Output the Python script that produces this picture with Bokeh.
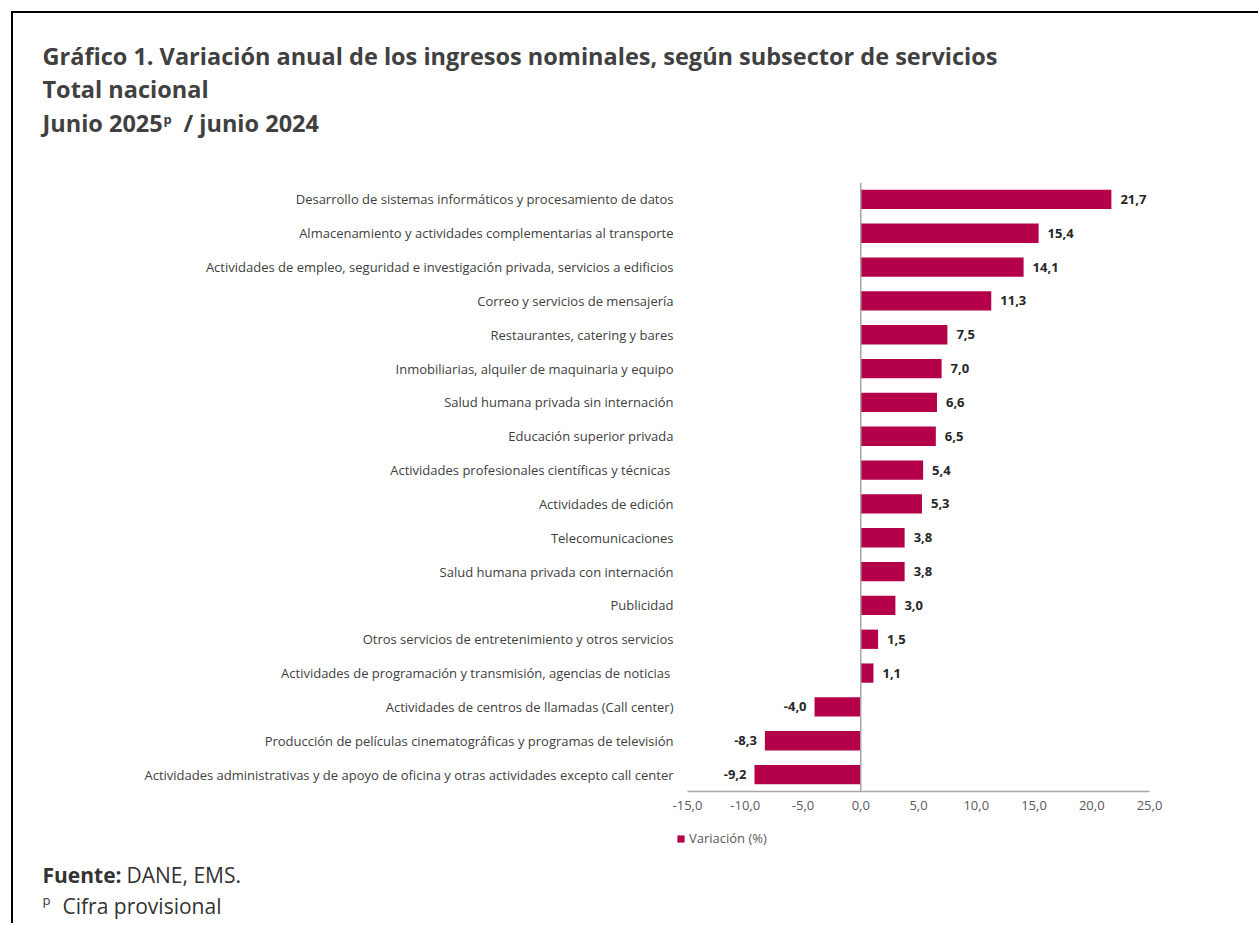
from bokeh.plotting import figure
from bokeh.layouts import column
from bokeh.models import (FactorRange, Span, Label, FixedTicker, CustomJSTickFormatter,
                          ColumnDataSource, Legend, LegendItem)
from bokeh.core.properties import value
from bokeh.embed import file_html
from bokeh.resources import INLINE

categories = [
    "Desarrollo de sistemas informáticos y procesamiento de datos",
    "Almacenamiento y actividades complementarias al transporte",
    "Actividades de empleo, seguridad e investigación privada, servicios a edificios",
    "Correo y servicios de mensajería",
    "Restaurantes, catering y bares",
    "Inmobiliarias, alquiler de maquinaria y equipo",
    "Salud humana privada sin internación",
    "Educación superior privada",
    "Actividades profesionales científicas y técnicas ",
    "Actividades de edición",
    "Telecomunicaciones",
    "Salud humana privada con internación",
    "Publicidad",
    "Otros servicios de entretenimiento y otros servicios",
    "Actividades de programación y transmisión,  agencias de noticias",
    "Actividades de centros de llamadas (Call center)",
    "Producción de películas cinematográficas y programas de televisión",
    "Actividades administrativas y de apoyo de oficina y otras actividades excepto call center",
]
values = [21.7, 15.4, 14.1, 11.3, 7.5, 7.0, 6.6, 6.5, 5.4, 5.3, 3.8, 3.8, 3.0, 1.5, 1.1, -4.0, -8.3, -9.2]
x_ticks = [-15, -10, -5, 0, 5, 10, 15, 20, 25]
series_name = "Variación (%)"

FONT = "Open Sans"
BAR = "#B5004A"
TXT = "#404040"
W = 1247

labels = [f"{v:.1f}".replace(".", ",") for v in values]
src = ColumnDataSource(dict(cat=categories, val=values, lab=labels))
pos = ColumnDataSource(dict(cat=[c for c, v in zip(categories, values) if v >= 0],
                            val=[v for v in values if v >= 0],
                            lab=[l for l, v in zip(labels, values) if v >= 0]))
neg = ColumnDataSource(dict(cat=[c for c, v in zip(categories, values) if v < 0],
                            val=[v for v in values if v < 0],
                            lab=[l for l, v in zip(labels, values) if v < 0]))


def blank(height, border_top=False):
    f = figure(width=W, height=height, output_backend="svg", toolbar_location=None,
               x_range=(0, 1), y_range=(0, 1), x_axis_type=None, y_axis_type=None,
               min_border=0, min_border_left=0, min_border_right=0,
               min_border_top=0, min_border_bottom=0, frame_align=False)
    f.outline_line_color = None
    f.xgrid.grid_line_color = None
    f.ygrid.grid_line_color = None
    st = {"border-left": "2px solid #000"}
    if border_top:
        st["border-top"] = "2px solid #000"
    f.styles = st
    return f


def lab(f, x, y, text, size, bold=False, color=TXT):
    f.add_layout(Label(x=x, y=y, x_units="screen", y_units="screen", text=text,
                       text_font=FONT, text_font_size=size,
                       text_font_style="bold" if bold else "normal",
                       text_color=color, text_baseline="middle", text_align="left"))


# ---- header
header = blank(160, border_top=True)
lab(header, 29, 118, "Gráfico 1. Variación anual de los ingresos nominales, según subsector de servicios", "23.5px", True)
lab(header, 29, 85, "Total nacional", "23.5px", True)
lab(header, 29, 51, "Junio 2025", "23.5px", True)
lab(header, 150, 55, "p", "13px", True)
lab(header, 170, 51, "/ junio 2024", "23.5px", True)

# ---- main chart
p = figure(width=W, height=654, output_backend="svg", toolbar_location=None,
           y_range=FactorRange(factors=list(reversed(categories))),
           x_range=(-15, 25), frame_align=False,
           min_border_left=674, min_border_right=W - 1136, min_border_top=11, min_border_bottom=34)
p.styles = {"border-left": "2px solid #000"}
p.outline_line_color = None
p.xgrid.grid_line_color = None
p.ygrid.grid_line_color = None

r = p.hbar(y="cat", right="val", left=0, height=0.57, source=src, fill_color=BAR, line_color=None)

p.text(x="val", y="cat", text="lab", source=pos, x_offset=9, text_align="left",
       text_baseline="middle", text_font=value(FONT), text_font_size="13px",
       text_font_style="bold", text_color="#262626")
p.text(x="val", y="cat", text="lab", source=neg, x_offset=-8, text_align="right",
       text_baseline="middle", text_font=value(FONT), text_font_size="13px",
       text_font_style="bold", text_color="#262626")

p.add_layout(Span(location=0, dimension="height", line_color="#a6a6a6", line_width=1.5))

p.yaxis.axis_line_color = None
p.yaxis.major_tick_line_color = None
p.yaxis.minor_tick_line_color = None
p.yaxis.major_tick_out = 0
p.yaxis.major_label_standoff = 14
p.yaxis.major_label_text_font = FONT
p.yaxis.major_label_text_font_size = "13px"
p.yaxis.major_label_text_color = TXT

p.xaxis.ticker = FixedTicker(ticks=x_ticks)
p.xaxis.formatter = CustomJSTickFormatter(code="return tick.toFixed(1).replace('.', ',');")
p.xaxis.axis_line_color = "#a6a6a6"
p.xaxis.axis_line_width = 1.5
p.xaxis.major_tick_line_color = None
p.xaxis.minor_tick_line_color = None
p.xaxis.major_tick_out = 0
p.xaxis.major_label_standoff = 9
p.xaxis.major_label_text_font = FONT
p.xaxis.major_label_text_font_size = "13px"
p.xaxis.major_label_text_color = "#595959"

# ---- footer (legend + source notes)
footer = blank(98)
# hidden copy of the series, only used to draw the legend key
key = footer.hbar(y="val", right="val", height=0.57, source=src,
                  fill_color=BAR, line_color=None, visible=False)
legend = Legend(items=[LegendItem(label=series_name, renderers=[key])],
                location=(663, 76), orientation="horizontal",
                glyph_width=9, glyph_height=9, label_standoff=4, padding=0, margin=0,
                label_height=12, border_line_color=None, background_fill_alpha=0,
                inactive_fill_alpha=0,
                label_text_font=FONT, label_text_font_size="13px", label_text_color="#595959")
footer.add_layout(legend)
lab(footer, 29, 49, "Fuente:", "21px", True, "#333333")
lab(footer, 113, 49, "DANE, EMS.", "21px", False, "#333333")
lab(footer, 29, 24, "p", "13px", False, "#333333")
lab(footer, 49, 18, "Cifra provisional", "21px", False, "#333333")

layout = column(header, p, footer, margin=(11, 0, 0, 11), spacing=0)

open("out.html", "w").write(file_html(layout, INLINE))
